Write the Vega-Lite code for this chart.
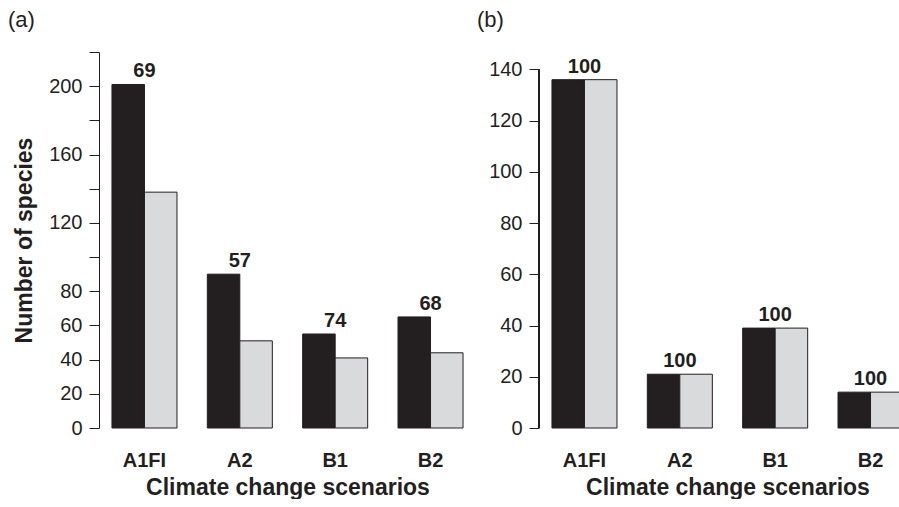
{
  "$schema": "https://vega.github.io/schema/vega-lite/v6.json",
  "padding": {"left": 8, "top": 8, "right": 0, "bottom": 0},
  "background": "white",
  "config": {
    "view": {"stroke": null},
    "font": "Liberation Sans",
    "axis": {"labelFont": "Liberation Sans", "titleFont": "Liberation Sans", "labelColor": "#231f20", "titleColor": "#231f20", "domainColor": "#231f20", "tickColor": "#231f20", "grid": false},
    "title": {"font": "Liberation Sans", "fontWeight": "normal", "fontSize": 22, "color": "#231f20", "anchor": "start", "frame": "group"}
  },
  "spacing": 1,
  "hconcat": [
    {
      "title": {"text": "(a)", "dx": -91, "offset": 20},
      "width": 377,
      "height": 376,
      "data": {"values": [
        {"scenario": "A1FI", "series": "s1", "value": 201, "label": "69"},
        {"scenario": "A1FI", "series": "s2", "value": 138, "label": ""},
        {"scenario": "A2", "series": "s1", "value": 90, "label": "57"},
        {"scenario": "A2", "series": "s2", "value": 51, "label": ""},
        {"scenario": "B1", "series": "s1", "value": 55, "label": "74"},
        {"scenario": "B1", "series": "s2", "value": 41, "label": ""},
        {"scenario": "B2", "series": "s1", "value": 65, "label": "68"},
        {"scenario": "B2", "series": "s2", "value": 44, "label": ""}
      ]},
      "encoding": {
        "x": {"field": "scenario", "type": "nominal", "sort": ["A1FI", "A2", "B1", "B2"],
          "scale": {"paddingInner": 0.318, "paddingOuter": 0.136},
          "axis": {"title": "Climate change scenarios", "labelAngle": 0, "domain": false, "ticks": false, "labelPadding": 22, "labelFontSize": 20, "labelFontWeight": "bold", "titleFontSize": 23, "titleFontWeight": "bold", "titlePadding": 6}},
        "y": {"field": "value", "type": "quantitative", "scale": {"domain": [0, 220], "nice": false},
          "axis": {"title": "Number of species", "values": [0, 20, 40, 60, 80, 100, 120, 140, 160, 180, 200, 220], "labelExpr": "indexof([0,20,40,60,80,120,160,200], datum.value) >= 0 ? datum.label : ''", "tickSize": 10, "labelPadding": 7, "labelFontSize": 20, "titleFontSize": 23, "titleFontWeight": "bold", "titlePadding": 12}}
      },
      "layer": [
        {
          "mark": {"type": "bar", "stroke": "#231f20", "strokeWidth": 1},
          "encoding": {
            "xOffset": {"field": "series", "type": "nominal", "sort": ["s1", "s2"]},
            "color": {"field": "series", "type": "nominal", "scale": {"domain": ["s1", "s2"], "range": ["#231f20", "#d9dadc"]}, "legend": null}
          }
        },
        {
          "transform": [{"filter": "datum.series == 's1'"}],
          "mark": {"type": "text", "fontSize": 20, "fontWeight": "bold", "color": "#231f20", "baseline": "alphabetic", "dy": -7},
          "encoding": {"text": {"field": "label"}}
        }
      ]
    },
    {
      "title": {"text": "(b)", "dx": -62, "offset": 20},
      "width": 377,
      "height": 376,
      "data": {"values": [
        {"scenario": "A1FI", "series": "s1", "value": 136, "label": "100"},
        {"scenario": "A1FI", "series": "s2", "value": 136, "label": ""},
        {"scenario": "A2", "series": "s1", "value": 21, "label": "100"},
        {"scenario": "A2", "series": "s2", "value": 21, "label": ""},
        {"scenario": "B1", "series": "s1", "value": 39, "label": "100"},
        {"scenario": "B1", "series": "s2", "value": 39, "label": ""},
        {"scenario": "B2", "series": "s1", "value": 14, "label": "100"},
        {"scenario": "B2", "series": "s2", "value": 14, "label": ""}
      ]},
      "resolve": {"scale": {"x": "independent"}, "axis": {"x": "independent"}},
      "layer": [
        {
          "encoding": {
            "x": {"field": "scenario", "type": "nominal", "sort": ["A1FI", "A2", "B1", "B2"],
              "scale": {"paddingInner": 0.318, "paddingOuter": 0.136},
              "axis": {"title": "Climate change scenarios", "labelAngle": 0, "domain": false, "ticks": false, "labelPadding": 22, "labelFontSize": 20, "labelFontWeight": "bold", "titleFontSize": 23, "titleFontWeight": "bold", "titlePadding": 6}},
            "y": {"field": "value", "type": "quantitative", "scale": {"domain": [0, 146.8], "nice": false},
              "axis": {"title": null, "domain": false, "values": [0, 20, 40, 60, 80, 100, 120, 140], "tickSize": 10, "labelPadding": 7, "labelFontSize": 20}}
          },
          "layer": [
            {
              "mark": {"type": "bar", "stroke": "#231f20", "strokeWidth": 1},
              "encoding": {
                "xOffset": {"field": "series", "type": "nominal", "sort": ["s1", "s2"]},
                "color": {"field": "series", "type": "nominal", "scale": {"domain": ["s1", "s2"], "range": ["#231f20", "#d9dadc"]}, "legend": null}
              }
            },
            {
              "transform": [{"filter": "datum.series == 's1'"}],
              "mark": {"type": "text", "fontSize": 20, "fontWeight": "bold", "color": "#231f20", "baseline": "alphabetic", "dy": -7},
              "encoding": {"text": {"field": "label"}}
            }
          ]
        },
        {
          "mark": {"type": "rule", "color": "#231f20", "strokeWidth": 1},
          "encoding": {
            "x": {"datum": 0, "type": "quantitative", "scale": {"domain": [0, 1]}, "axis": null},
            "y": {"datum": 0, "type": "quantitative", "scale": {"domain": [0, 146.8], "nice": false}},
            "y2": {"datum": 140}
          }
        }
      ]
    }
  ]
}
